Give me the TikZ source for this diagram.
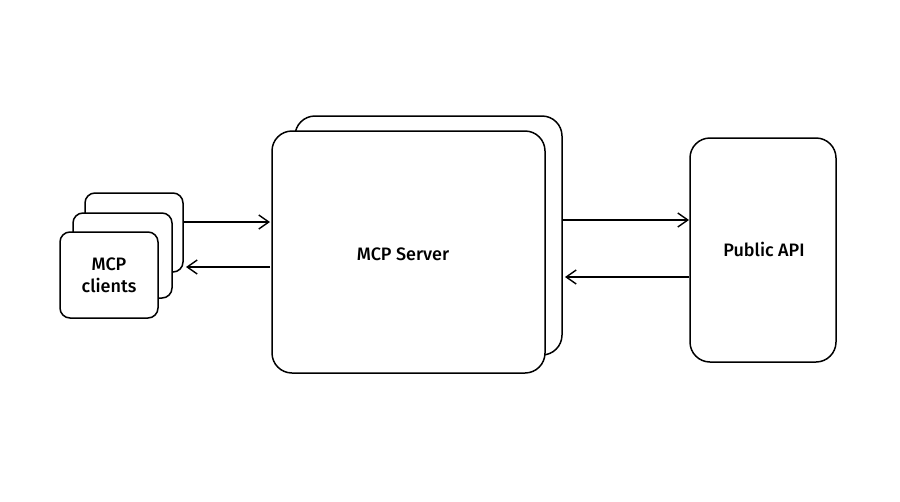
\documentclass[tikz,border=0pt]{standalone}
\usepackage{fontspec}
\setmainfont{Fira Sans}[UprightFont=* Medium]
\usetikzlibrary{arrows.meta}
\begin{document}
\begin{tikzpicture}[x=1pt,y=-1pt,
  box/.style={draw=black,line width=1.5pt,fill=white,rounded corners=14pt},
  sbox/.style={draw=black,line width=1.5pt,fill=white,rounded corners=10pt},
  arr/.style={line width=1.4pt,-{Straight Barb[length=10pt,width=14pt]}},
  lbl/.style={font=\fontsize{18}{22}\selectfont,align=center}]
\useasboundingbox[fill=white] (0,0) rectangle (900,501);
\draw[sbox] (85,193) rectangle (183,272);
\draw[sbox] (73,213) rectangle (172,298);
\draw[sbox] (60,232) rectangle (158,318);
\node[lbl] (clients) at (109,275) {MCP\\clients};
\coordinate (cR1) at (184,222); \coordinate (cR2) at (186,267);
\draw[box,rounded corners=20pt] (295,116) rectangle (562,355);
\draw[box,rounded corners=20pt] (272,131) rectangle (545,373);
\node[lbl] (server) at (403,254) {MCP Server};
\coordinate (sL1) at (270,222); \coordinate (sL2) at (270,267);
\coordinate (sR1) at (563,220); \coordinate (sR2) at (565,277);
\draw[box,rounded corners=20pt] (690,138) rectangle (836,362);
\node[lbl] (api) at (764,249) {Public API};
\coordinate (aL1) at (689,220); \coordinate (aL2) at (689,277);
\draw[arr] (cR1) -- (sL1);
\draw[arr] (sL2) -- (cR2);
\draw[arr] (sR1) -- (aL1);
\draw[arr] (aL2) -- (sR2);
\end{tikzpicture}
\end{document}
